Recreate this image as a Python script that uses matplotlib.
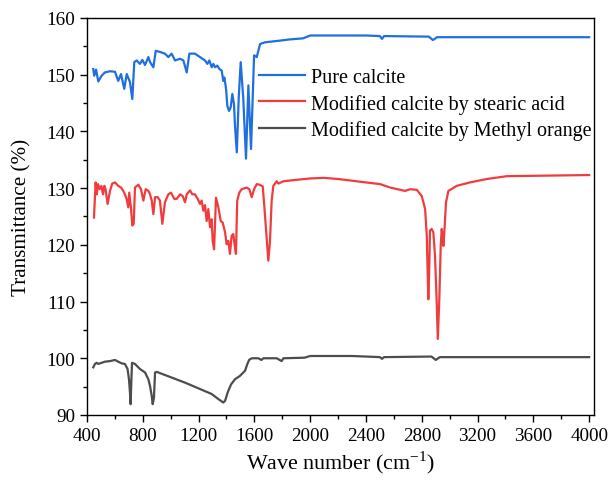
import numpy as np
import matplotlib
matplotlib.use("Agg")
import matplotlib.pyplot as plt
from matplotlib.ticker import MultipleLocator

# 読み取った FT-IR スペクトル (波数 cm-1, 透過率 %)
pure_wn = [445, 452, 465, 481, 505, 529, 565, 601, 624, 644, 667, 685, 708, 725, 739,
           756, 780, 797, 816, 840, 852, 876, 893, 923, 959, 983, 1007, 1031, 1067, 1091,
           1115, 1134, 1174, 1210, 1246, 1263, 1277, 1294, 1306, 1318, 1334, 1349, 1366,
           1377, 1385, 1397, 1406, 1418, 1430, 1442, 1454, 1461, 1474, 1488, 1502, 1520,
           1540, 1557, 1576, 1598, 1617, 1641, 1676, 1784, 1850, 1950, 2000, 2400, 2500,
           2515, 2530, 2850, 2880, 2910, 3000, 4000]
pure_t = [151.0, 149.8, 150.9, 148.8, 149.8, 150.4, 150.6, 150.5, 148.9, 150.1, 147.5,
          150.1, 148.7, 145.7, 152.2, 152.5, 151.9, 152.6, 151.7, 153.1, 152.2, 151.3,
          154.2, 154.0, 153.7, 153.1, 153.7, 152.5, 152.8, 152.5, 150.4, 153.7, 153.7,
          153.1, 152.5, 151.9, 152.5, 151.3, 151.9, 151.3, 151.6, 151.0, 150.7, 148.9,
          149.5, 147.5, 144.5, 143.6, 144.2, 146.6, 144.8, 141.0, 136.3, 146.0, 152.2,
          146.0, 135.2, 148.1, 136.9, 153.4, 153.1, 155.4, 155.7, 156.0, 156.2, 156.4,
          156.9, 156.9, 156.8, 156.3, 156.8, 156.7, 156.1, 156.6, 156.6, 156.6]

stearic_wn = [450, 462, 470, 479, 491, 503, 515, 524, 533, 548, 565, 581, 601, 624, 644,
              660, 672, 684, 696, 703, 715, 725, 735, 744, 768, 787, 804, 821, 840, 852,
              864, 876, 888, 907, 923, 940, 959, 983, 1002, 1026, 1043, 1067, 1086, 1103,
              1115, 1139, 1155, 1174, 1194, 1210, 1222, 1234, 1246, 1258, 1270, 1282, 1294,
              1301, 1311, 1325, 1342, 1359, 1373, 1390, 1401, 1413, 1425, 1437, 1449, 1461,
              1468, 1477, 1492, 1509, 1545, 1564, 1581, 1598, 1617, 1636, 1660, 1672, 1700,
              1712, 1724, 1736, 1760, 1772, 1808, 1880, 2000, 2100, 2200, 2300, 2400, 2501,
              2573, 2645, 2680, 2716, 2764, 2800, 2824, 2836, 2847, 2854, 2859, 2871, 2883,
              2895, 2907, 2915, 2926, 2936, 2943, 2950, 2955, 2962, 2974, 2991, 3051, 3146,
              3266, 3410, 4000]
stearic_t = [124.8, 131.0, 128.9, 130.7, 129.8, 130.4, 128.9, 130.4, 129.8, 127.2, 129.5,
             130.8, 131.0, 130.4, 130.1, 129.5, 128.9, 128.1, 126.6, 129.2, 126.6, 123.4,
             123.7, 130.1, 130.6, 129.8, 127.8, 129.8, 129.5, 128.9, 127.8, 125.4, 128.4,
             128.4, 127.8, 123.7, 127.5, 128.9, 129.2, 128.1, 128.1, 128.9, 128.6, 127.5,
             128.9, 129.6, 128.9, 128.9, 128.1, 127.2, 127.8, 126.0, 127.0, 124.2, 126.3,
             123.1, 124.5, 120.7, 119.2, 128.3, 126.6, 124.2, 123.9, 122.2, 120.1, 120.7,
             118.4, 121.6, 121.9, 119.5, 118.4, 127.8, 129.2, 129.8, 130.1, 129.8, 128.4,
             129.8, 130.7, 130.6, 130.3, 126.6, 117.2, 120.7, 127.8, 130.4, 131.2, 130.8,
             131.2, 131.4, 131.7, 131.8, 131.6, 131.3, 131.0, 130.7, 130.1, 129.7, 129.5,
             129.8, 129.7, 128.6, 126.3, 121.6, 110.4, 116.0, 122.5, 122.8, 122.2, 118.1,
             110.0, 103.4, 110.5, 119.8, 122.8, 121.6, 119.8, 122.3, 127.5, 129.5, 130.4,
             131.0, 131.6, 132.1, 132.3]

mo_wn = [445, 457, 469, 481, 505, 529, 565, 601, 624, 648, 672, 691, 701, 708, 713, 718,
         723, 744, 780, 816, 840, 852, 864, 871, 880, 888, 900, 1103, 1294, 1342, 1377,
         1390, 1409, 1433, 1461, 1497, 1533, 1550, 1562, 1581, 1629, 1650, 1665, 1760,
         1796, 1808, 1960, 2000, 2300, 2500, 2515, 2530, 2870, 2900, 2930, 4000]
mo_t = [98.4, 99.0, 99.2, 99.0, 99.2, 99.4, 99.5, 99.7, 99.4, 99.1, 99.0, 98.1, 96.3,
        94.0, 91.9, 96.0, 99.2, 99.0, 98.1, 97.5, 96.3, 95.1, 93.4, 91.9, 93.0, 97.5,
        97.6, 95.7, 93.7, 92.8, 92.2, 92.5, 94.0, 95.4, 96.3, 96.9, 97.8, 99.0, 99.7,
        100.0, 100.0, 99.7, 100.0, 100.0, 99.5, 100.0, 100.1, 100.4, 100.4, 100.2, 99.9,
        100.2, 100.3, 99.7, 100.2, 100.2]

labels = ["Pure calcite", "Modified calcite by stearic acid",
          "Modified calcite by Methyl orange"]

plt.rcParams["font.family"] = ["Liberation Serif", "DejaVu Serif"]
plt.rcParams["mathtext.fontset"] = "custom"
plt.rcParams["mathtext.rm"] = "Liberation Serif"

fig = plt.figure(figsize=(6.1, 4.85), dpi=100)
ax = fig.add_axes([0.1426, 0.1423, 0.8312, 0.8187])

ax.plot(pure_wn, pure_t, color="#1f6fe0", lw=1.6, label=labels[0])
ax.plot(stearic_wn, stearic_t, color="#f03c3c", lw=1.6, label=labels[1])
ax.plot(mo_wn, mo_t, color="#4d4d4d", lw=1.6, label=labels[2])

ax.set_xlim(400, 4035)
ax.set_ylim(90, 160)
ax.xaxis.set_major_locator(MultipleLocator(400))
ax.xaxis.set_minor_locator(MultipleLocator(200))
ax.yaxis.set_major_locator(MultipleLocator(10))
ax.yaxis.set_minor_locator(MultipleLocator(5))
ax.tick_params(which="major", direction="out", length=5, width=1, labelsize=13.8)
ax.tick_params(which="minor", direction="out", length=3, width=1)
for s in ax.spines.values():
    s.set_linewidth(1)

ax.set_xlabel(r"Wave number (cm$^{\mathregular{-1}}$)", fontsize=15.8, labelpad=3)
ax.set_ylabel("Transmittance (%)", fontsize=15.2, labelpad=11)

ax.legend(loc="upper left", bbox_to_anchor=(0.4246, 0.858), frameon=False,
          fontsize=14.5, handlelength=2.3, handletextpad=0.3, labelspacing=0.33,
          borderpad=0, borderaxespad=0, bbox_transform=fig.transFigure)

fig.savefig("out.png", dpi=100)
